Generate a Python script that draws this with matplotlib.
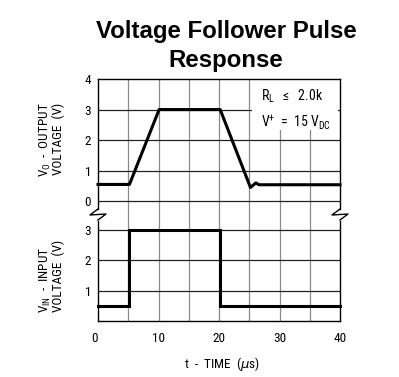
import matplotlib
matplotlib.use("Agg")
import matplotlib.pyplot as plt
from matplotlib import font_manager
from matplotlib.lines import Line2D
from matplotlib.patches import Rectangle

# ---------------- data ----------------
t_out = [0, 5.2, 10.1, 20.2, 25.2, 25.6, 26.1, 26.6, 40]
v_out = [0.55, 0.55, 3.0, 3.0, 0.45, 0.52, 0.60, 0.54, 0.54]
t_in = [0, 5.2, 5.2, 20.2, 20.2, 40]
v_in = [0.5, 0.5, 3.0, 3.0, 0.5, 0.5]
x_ticks = [0, 10, 20, 30, 40]
top_yticks = [0, 1, 2, 3, 4]
bot_yticks = [1, 2, 3]
title = "Voltage Follower Pulse\nResponse"

# ---------------- fonts ----------------
avail = {f.name for f in font_manager.fontManager.ttflist}
narrow = "DejaVu Sans"
for cand in ["Liberation Sans Narrow", "DejaVu Sans Condensed", "Roboto Condensed", "Arial Narrow"]:
    if cand in avail:
        narrow = cand
        break
plt.rcParams['font.family'] = [narrow, 'DejaVu Sans']
plt.rcParams['mathtext.default'] = 'regular'

W, H = 399, 377
fig = plt.figure(figsize=(W / 100, H / 100), dpi=100)

L, R = 98, 340
TOP, JOIN, BOT = 79, 215, 321
def fx(px): return px / W
def fy(py): return 1 - py / H

ax1 = fig.add_axes([fx(L), fy(JOIN), fx(R) - fx(L), fy(TOP) - fy(JOIN)])
ax2 = fig.add_axes([fx(L), fy(BOT), fx(R) - fx(L), fy(JOIN) - fy(BOT)], sharex=ax1)

ax1.set_xlim(0, 40)
ax1.set_ylim(-0.45, 4)
ax2.set_ylim(0, 3.5)

hcol, vcol = '#222222', '#8a8a8a'
FS = 9.5
for ax in (ax1, ax2):
    ax.grid(False)
    for xv in range(5, 40, 5):
        ax.axvline(xv, color=vcol, lw=0.9, zorder=1)
    ax.tick_params(length=0, labelsize=FS)
    for s in ax.spines.values():
        s.set_linewidth(1.0)
        s.set_color('black')

for yv in top_yticks[:-1]:
    ax1.axhline(yv, color=hcol, lw=0.9, zorder=1)
for yv in bot_yticks:
    ax2.axhline(yv, color=hcol, lw=0.9, zorder=1)

ax1.spines['bottom'].set_visible(False)
ax2.spines['top'].set_visible(False)
ax1.spines['left'].set_bounds(-0.25, 4)
ax1.spines['right'].set_bounds(-0.25, 4)
ax2.spines['left'].set_bounds(0, 3.3)
ax2.spines['right'].set_bounds(0, 3.3)

ax1.set_yticks(top_yticks)
ax2.set_yticks(bot_yticks)
ax1.tick_params(axis='x', labelbottom=False)
ax2.set_xticks(x_ticks)
ax2.set_xticklabels([str(v) for v in x_ticks])
ax1.tick_params(axis='y', pad=5)
ax2.tick_params(axis='y', pad=5)
ax2.tick_params(axis='x', pad=8)
ax2.get_xticklabels()[0].set_horizontalalignment('right')

# signals
ax1.plot(t_out, v_out, color='black', lw=2.2, zorder=5, solid_joinstyle='round', clip_on=False)
ax2.plot(t_in, v_in, color='black', lw=2.2, zorder=5, solid_joinstyle='miter', clip_on=False)

# annotation box
ax1.add_patch(Rectangle((25.5, 2.33), 14.2, 1.64, facecolor='white', edgecolor='none', zorder=2))
ax1.text(26.9, 3.45, r"R$_{L}$  $\leq$  2.0k", fontsize=FS + 0.5, va='center', ha='left', zorder=3)
ax1.text(26.9, 2.62, r"V$^{+}$  =  15 V$_{DC}$", fontsize=FS + 0.5, va='center', ha='left', zorder=3)

# break zigzags
for xp in (L, R):
    pts = [(xp, JOIN - 6), (xp - 8, JOIN), (xp + 8, JOIN - 1), (xp, JOIN + 5)]
    fig.add_artist(Line2D([fx(p[0]) for p in pts], [fy(p[1]) for p in pts],
                          color='black', lw=1.0, transform=fig.transFigure))

# axis labels
fig.text(fx(45), fy(140), r"V$_{O}$  -  OUTPUT", rotation=90, ha='center', va='center', fontsize=FS)
fig.text(fx(58), fy(139), "VOLTAGE  (V)", rotation=90, ha='center', va='center', fontsize=FS)
fig.text(fx(45), fy(280), r"V$_{IN}$  -  INPUT", rotation=90, ha='center', va='center', fontsize=FS)
fig.text(fx(58), fy(276), "VOLTAGE  (V)", rotation=90, ha='center', va='center', fontsize=FS)
fig.text(fx(222), fy(364), r"t  -  TIME  ($\mathit{\mu}$s)", ha='center', va='center', fontsize=FS)

fig.text(fx(226), fy(46), title, ha='center', va='center', fontsize=17.3,
         fontweight='bold', family=['Liberation Sans', 'DejaVu Sans'], linespacing=1.3)

fig.savefig("out.png", dpi=100)
